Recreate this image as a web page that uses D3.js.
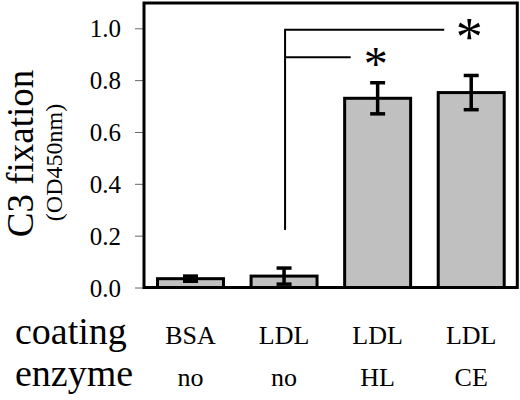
<!DOCTYPE html>
<html>
<head>
<meta charset="utf-8">
<script src="https://cdn.jsdelivr.net/npm/d3@7"></script>
<style>
  html, body { margin: 0; padding: 0; background: #fff; }
  svg { display: block; }
</style>
</head>
<body>
<svg id="chart" width="520" height="400"></svg>
<script>
// ---- data ----
const coating = ["BSA", "LDL", "LDL", "LDL"];
const enzyme = ["no", "no", "HL", "CE"];
const values = [0.034, 0.044, 0.730, 0.752];
const errors = [0.010, 0.031, 0.060, 0.066];
const yTicks = [0.0, 0.2, 0.4, 0.6, 0.8, 1.0];
// significance comparisons: from bar index, to bar index, bracket level
const sigFrom = [1, 1];
const sigTo = [2, 3];
const sigLevel = [0.888, 0.994];
const sigBase = 0.222;
const sigMark = ["*", "*"];

// ---- layout ----
const FONT = "'Liberation Serif', 'Times New Roman', serif";
const svg = d3.select("#chart");
const pLeft = 144, pRight = 517.3, pTop = 3, pBottom = 287.5;
const idx = d3.range(values.length);

const x = d3.scaleBand().domain(idx).range([143.7, 518])
  .paddingInner(0.295).paddingOuter(0.1475);
const y = d3.scaleLinear().domain([0, 1.1]).range([pBottom, pBottom - 1.1 * 259.2]);

// y axis ticks
const yAxis = d3.axisLeft(y).tickValues(yTicks).tickFormat(d3.format(".1f"))
  .tickSize(8).tickPadding(14);
const gy = svg.append("g").attr("transform", `translate(${pLeft - 1},0)`).call(yAxis);
gy.attr("font-family", null).attr("font-size", null);
gy.select(".domain").remove();
gy.selectAll(".tick line").attr("stroke", "#666").attr("stroke-width", 1);
gy.selectAll(".tick text")
  .style("font-family", FONT)
  .style("font-size", "25px")
  .attr("fill", "#000")
  .attr("dy", "0.34em");

// bars
svg.append("g").selectAll("rect").data(idx).join("rect")
  .attr("x", i => x(i))
  .attr("y", i => y(values[i]))
  .attr("width", x.bandwidth())
  .attr("height", i => y(0) - y(values[i]))
  .attr("fill", "#c0c0c0")
  .attr("stroke", "#000")
  .attr("stroke-width", 3);

// error bars
const cap = 7.5;
const eg = svg.append("g").attr("stroke", "#000").attr("stroke-width", 3.5);
idx.forEach(i => {
  const cx = x(i) + x.bandwidth() / 2;
  const hi = y(values[i] + errors[i]), lo = y(values[i] - errors[i]);
  eg.append("line").attr("x1", cx).attr("x2", cx).attr("y1", hi).attr("y2", lo);
  eg.append("line").attr("x1", cx - cap).attr("x2", cx + cap).attr("y1", hi).attr("y2", hi);
  eg.append("line").attr("x1", cx - cap).attr("x2", cx + cap).attr("y1", lo).attr("y2", lo);
});

// frame
svg.append("rect")
  .attr("x", pLeft).attr("y", pTop)
  .attr("width", pRight - pLeft).attr("height", pBottom - pTop)
  .attr("fill", "none").attr("stroke", "#000").attr("stroke-width", 3);

// significance brackets
const sg = svg.append("g").attr("stroke", "#000").attr("stroke-width", 2).attr("fill", "none");
const vx = x(sigFrom[0]) + x.bandwidth() / 2 + 1;
sg.append("line").attr("x1", vx).attr("x2", vx)
  .attr("y1", y(d3.max(sigLevel)) - 1).attr("y2", y(sigBase));
sigTo.forEach((t, k) => {
  sg.append("line").attr("x1", vx).attr("x2", x(t) + 6)
    .attr("y1", y(sigLevel[k])).attr("y2", y(sigLevel[k]));
});
const starSize = [48, 54];
svg.append("g").selectAll("text").data(sigTo).join("text")
  .attr("x", (t, k) => x(t) + x.bandwidth() / 2 - 2)
  .attr("y", (t, k) => y(sigLevel[k]) + starSize[k] * 0.47)
  .attr("text-anchor", "middle")
  .style("font-family", FONT)
  .style("font-size", (t, k) => starSize[k] + "px")
  .text((t, k) => sigMark[k]);

// y axis title
svg.append("text")
  .attr("transform", "translate(33,153.5) rotate(-90)")
  .attr("text-anchor", "middle")
  .style("font-family", FONT)
  .style("font-size", "37px")
  .text("C3 fixation");
svg.append("text")
  .attr("transform", "translate(62,162.5) rotate(-90)")
  .attr("text-anchor", "middle")
  .style("font-family", FONT)
  .style("font-size", "24px")
  .text("(OD450nm)");

// bottom label rows
svg.append("text").attr("x", 15).attr("y", 344)
  .style("font-family", FONT).style("font-size", "38px").text("coating");
svg.append("text").attr("x", 15).attr("y", 386)
  .style("font-family", FONT).style("font-size", "38px").text("enzyme");
svg.append("g").selectAll("text").data(idx).join("text")
  .attr("x", i => x(i) + x.bandwidth() / 2)
  .attr("y", 344)
  .attr("text-anchor", "middle")
  .style("font-family", FONT).style("font-size", "26px")
  .text(i => coating[i]);
svg.append("g").selectAll("text").data(idx).join("text")
  .attr("x", i => x(i) + x.bandwidth() / 2)
  .attr("y", 386)
  .attr("text-anchor", "middle")
  .style("font-family", FONT).style("font-size", "26px")
  .text(i => enzyme[i]);
</script>
</body>
</html>
